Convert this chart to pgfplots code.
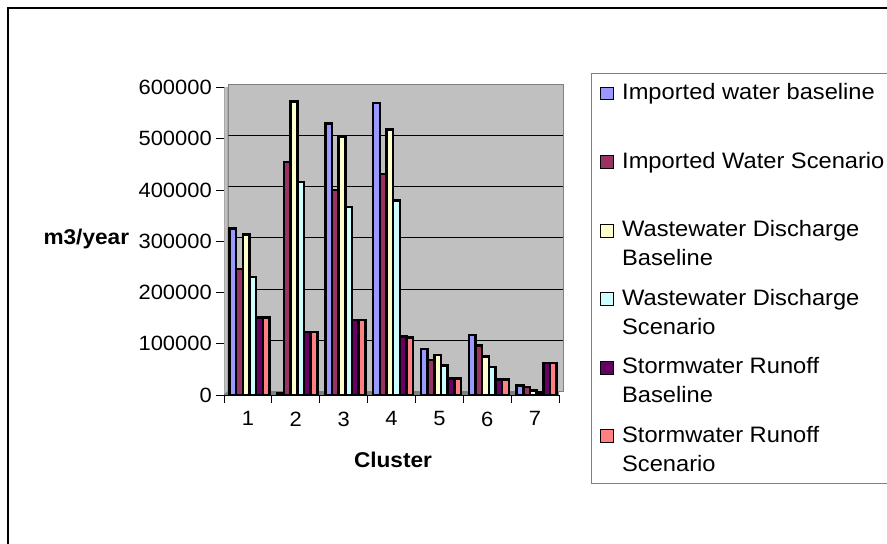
\documentclass[border=0pt]{standalone}
\usepackage{pgfplots}
\pgfplotsset{compat=1.18}
\usepackage{fontspec}
\setmainfont{Liberation Sans}[FakeStretch=1.06]
\definecolor{iwb}{HTML}{9999FF}
\definecolor{iws}{HTML}{993366}
\definecolor{wdb}{HTML}{FFFFCC}
\definecolor{wds}{HTML}{CCFFFF}
\definecolor{srb}{HTML}{660066}
\definecolor{srs}{HTML}{FF8080}
\definecolor{wall}{HTML}{C0C0C0}
\definecolor{floorc}{HTML}{808080}
\definecolor{border}{HTML}{808080}
\newcommand{\LE}[2]{\parbox[t]{215pt}{\raggedright\rule{0pt}{15pt}#1\\#2\rule[-4pt]{0pt}{4pt}}}
\pgfplotsset{
  mybar/.style={/tikz/fill=#1, /tikz/draw=black, /tikz/line width=1.9pt, /tikz/xshift=1.2pt,
    legend image code/.code={\draw[fill=#1,draw=black,line width=0.5pt] (0pt,0pt) rectangle (9.5pt,9.5pt);}},
}
\begin{document}
\begin{tikzpicture}
\useasboundingbox (0pt,0pt) rectangle (665.25pt,-407.25pt);
\fill[white] (0pt,0pt) rectangle (665.25pt,-407.25pt);
\begin{scope}
\clip (0pt,0pt) rectangle (665.25pt,-407.25pt);
\draw[line width=1.1pt] (6pt,-6pt) rectangle (690pt,-430pt);
\end{scope}
\begin{axis}[
  at={(171pt,-293.625pt)}, anchor=south west,
  scale only axis, width=251.25pt, height=230.6pt,
  xmin=0.5, xmax=7.5, ymin=0, ymax=600000,
  ybar=0pt, bar width=5pt,
  axis x line*=bottom, axis y line*=left,
  axis line style={-, black, line width=0.6pt},
  tick align=outside, major tick length=6pt,
  tick style={black, line width=0.6pt},
  xtick={0.5,1.5,...,7.5},
  xticklabels={1,2,3,4,5,6,7,{}},
  xticklabel style={xshift=17.95pt, yshift=-3pt},
  ytick={0,100000,...,600000},
  yticklabel style={inner xsep=3pt},
  extra y ticks={100000,200000,300000,400000,500000},
  extra y tick labels={},
  extra y tick style={grid=major},
  scaled y ticks=false,
  /pgf/number format/.cd, fixed, 1000 sep={}, assume math mode=true, /pgfplots/.cd,
  tick label style={font=\fontsize{15.5}{18}\selectfont},
  axis background/.style={fill=wall, draw=border, line width=0.6pt, shift={(3pt,2.6pt)}},
  major grid style={black, line width=0.6pt, shift={(3pt,2.6pt)}},
  legend style={at={(1.0836,1.0371)}, anchor=north west,
    draw=border, line width=0.75pt, fill=white,
    inner xsep=6.5pt, inner ysep=5pt,
    font=\fontsize{16.75}{21.75}\selectfont,
    row sep=10.65pt,
    nodes={inner sep=0pt, text height=15pt, text depth=25.75pt, anchor=base west},
    cells={anchor=base west},
    /tikz/every odd column/.append style={column sep=6.5pt}},
]
\fill[wall, draw=border, line width=0.6pt] (rel axis cs:0,0) -- ([shift={(3pt,2.6pt)}]rel axis cs:0,0) -- ([shift={(3pt,2.6pt)}]rel axis cs:0,1) -- (rel axis cs:0,1) -- cycle;
\fill[floorc] (rel axis cs:0,0) -- ([shift={(3pt,2.6pt)}]rel axis cs:0,0) -- ([shift={(3pt,2.6pt)}]rel axis cs:1,0) -- (rel axis cs:1,0) -- cycle;
\addplot[mybar=iwb] coordinates {(1,325000) (2,3000) (3,530000) (4,570000) (5,90000) (6,117000) (7,19000)};
\addlegendentry{\LE{Imported water baseline}{}}
\addplot[mybar=iws] coordinates {(1,246000) (2,455000) (3,400000) (4,431000) (5,68000) (6,97000) (7,16000)};
\addlegendentry{\LE{Imported Water Scenario}{}}
\addplot[mybar=wdb] coordinates {(1,313000) (2,573000) (3,503000) (4,518000) (5,78000) (6,75000) (7,9000)};
\addlegendentry{\LE{Wastewater Discharge}{Baseline}}
\addplot[mybar=wds] coordinates {(1,230000) (2,416000) (3,367000) (4,380000) (5,58000) (6,55000) (7,5000)};
\addlegendentry{\LE{Wastewater Discharge}{Scenario}}
\addplot[mybar=srb] coordinates {(1,151000) (2,123000) (3,146000) (4,114000) (5,32000) (6,30000) (7,62000)};
\addlegendentry{\LE{Stormwater Runoff}{Baseline}}
\addplot[mybar=srs] coordinates {(1,151000) (2,123000) (3,146000) (4,112000) (5,32000) (6,30000) (7,62000)};
\addlegendentry{\LE{Stormwater Runoff}{Scenario}}
\end{axis}
\node[anchor=base east, inner sep=0pt, font=\bfseries\fontsize{16}{19}\selectfont] at (97pt,-183pt) {m3/year};
\node[anchor=base, inner sep=0pt, font=\bfseries\fontsize{16}{19}\selectfont] at (294.75pt,-350.25pt) {Cluster};
\end{tikzpicture}
\end{document}
